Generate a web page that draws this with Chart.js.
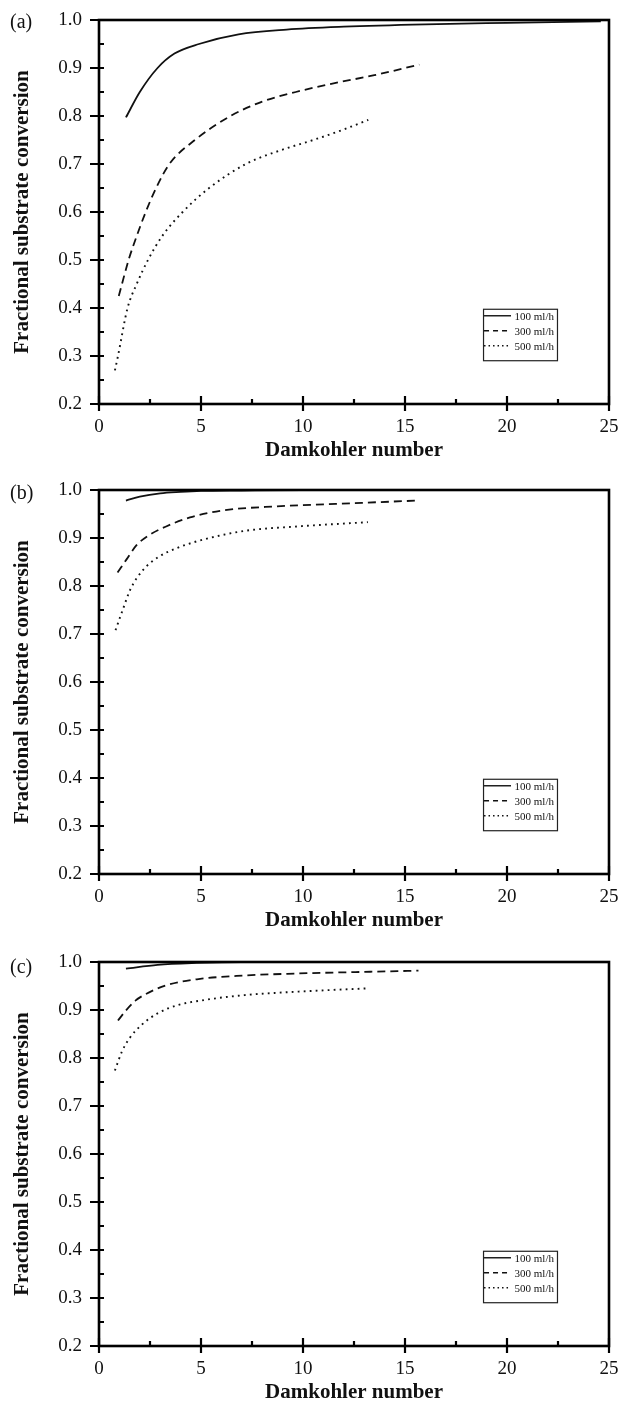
<!DOCTYPE html>
<html>
<head>
<meta charset="utf-8">
<script src="https://cdn.jsdelivr.net/npm/chart.js@4.4.1/dist/chart.umd.min.js"></script>
<style>
  html, body { margin: 0; padding: 0; background: #fff; }
  #wrap { position: relative; width: 619px; height: 1405px; }
  canvas { position: absolute; left: 0; }
</style>
</head>
<body>
<div id="wrap">
  <canvas id="chart-a" width="619" height="463" style="top:0"></canvas>
  <canvas id="chart-b" width="619" height="463" style="top:470px"></canvas>
  <canvas id="chart-c" width="619" height="463" style="top:942px"></canvas>
</div>
<script>
  // flow rates (legend)
  var seriesNames = ['100 ml/h', '300 ml/h', '500 ml/h'];

  // (a) Damkohler number vs fractional conversion
  var a100 = [[1.32, 0.797], [2.0, 0.85], [2.87, 0.90], [3.7, 0.93], [4.9, 0.95], [6.84, 0.97], [9.2, 0.98], [12, 0.986], [16, 0.991], [20, 0.994], [24.6, 0.997]];
  var a300 = [[0.97, 0.425], [1.45, 0.50], [1.85, 0.55], [2.29, 0.60], [2.8, 0.65], [3.45, 0.70], [4.7, 0.75], [6.45, 0.80], [8, 0.83], [9.65, 0.85], [11.5, 0.868], [13.5, 0.885], [15.7, 0.907]];
  var a500 = [[0.78, 0.27], [0.93, 0.30], [1.4, 0.40], [1.85, 0.45], [2.4, 0.50], [3.1, 0.55], [4.1, 0.60], [5.4, 0.65], [7.2, 0.70], [9, 0.73], [10.5, 0.75], [12, 0.772], [13.2, 0.792]];

  // (b)
  var b100 = [[1.32, 0.978], [2, 0.986], [3, 0.993], [4, 0.996], [5, 0.998], [7, 0.999], [10, 1.0], [24.6, 1.0]];
  var b300 = [[0.91, 0.828], [1.36, 0.856], [1.84, 0.885], [2.42, 0.905], [3.29, 0.924], [4.46, 0.943], [6.0, 0.957], [8.7, 0.966], [11.6, 0.971], [15.6, 0.978]];
  var b500 = [[0.81, 0.708], [1.16, 0.75], [1.55, 0.794], [2.13, 0.832], [2.9, 0.86], [3.88, 0.88], [5.23, 0.898], [7.17, 0.915], [9.7, 0.924], [13.18, 0.933]];

  // (c)
  var c100 = [[1.32, 0.986], [2.87, 0.994], [4.8, 0.998], [7, 1.0], [24.6, 1.0]];
  var c300 = [[0.93, 0.878], [1.32, 0.899], [1.8, 0.92], [2.29, 0.933], [3.26, 0.951], [4.8, 0.964], [6.74, 0.971], [9.65, 0.976], [12.56, 0.979], [15.66, 0.982]];
  var c500 = [[0.78, 0.774], [1.12, 0.813], [1.51, 0.842], [2.09, 0.869], [2.87, 0.893], [3.84, 0.91], [5.19, 0.921], [7.13, 0.931], [9.65, 0.938], [13.14, 0.945]];

  var xMin = 0, xMax = 25, xStep = 5;
  var yMin = 0.2, yMax = 1.0, yStep = 0.1;

  var SERIF = 'Liberation Serif';
  var INK = '#111';

  Chart.defaults.font.family = SERIF;
  Chart.defaults.color = INK;

  var lineStyles = [
    { dash: [], width: 1.8 },
    { dash: [8, 5], width: 1.8 },
    { dash: [1.8, 4.2], width: 1.9 }
  ];

  function pts(arr) {
    return arr.map(function (p) { return { x: p[0], y: p[1] }; });
  }

  // box, crossing ticks, panel letter and the small legend
  var framePlugin = {
    id: 'frame',
    afterDatasetsDraw: function (chart) {
      var ctx = chart.ctx;
      var a = chart.chartArea;
      var xs = chart.scales.x;
      var ys = chart.scales.y;
      ctx.save();
      ctx.strokeStyle = '#000';
      ctx.lineWidth = 2.6;
      ctx.strokeRect(a.left, a.top, a.right - a.left, a.bottom - a.top);

      ctx.lineWidth = 2.2;
      ctx.beginPath();
      var xt = xs.ticks.map(function (t) { return t.value; });
      xt.forEach(function (v, i) {
        var px = xs.getPixelForValue(v);
        ctx.moveTo(px, a.bottom - 8);
        ctx.lineTo(px, a.bottom + 7);
        if (i < xt.length - 1) {
          var mx = xs.getPixelForValue((v + xt[i + 1]) / 2);
          ctx.moveTo(mx, a.bottom);
          ctx.lineTo(mx, a.bottom - 5);
        }
      });
      var yt = ys.ticks.map(function (t) { return t.value; });
      yt.forEach(function (v, i) {
        var py = ys.getPixelForValue(v);
        ctx.moveTo(a.left - 9, py);
        ctx.lineTo(a.left + 5, py);
        if (i < yt.length - 1) {
          var my = ys.getPixelForValue((v + yt[i + 1]) / 2);
          ctx.moveTo(a.left, my);
          ctx.lineTo(a.left + 5, my);
        }
      });
      ctx.stroke();
      ctx.restore();
    },
    afterDraw: function (chart, args, opts) {
      var ctx = chart.ctx;
      var a = chart.chartArea;
      var w = a.right - a.left, h = a.bottom - a.top;
      ctx.save();

      // panel letter
      ctx.fillStyle = INK;
      ctx.font = '20px "' + SERIF + '"';
      ctx.textBaseline = 'middle';
      ctx.textAlign = 'left';
      ctx.fillText(opts.label, 10, a.top + opts.labelDy);

      // legend box
      var bl = a.left + w * 0.753, br = a.left + w * 0.898;
      var bt = a.top + h * 0.752, bb = a.top + h * 0.886;
      ctx.fillStyle = '#fff';
      ctx.fillRect(bl, bt, br - bl, bb - bt);
      ctx.strokeStyle = '#222';
      ctx.lineWidth = 1.2;
      ctx.strokeRect(bl + 0.5, bt + 0.5, br - bl, bb - bt);

      ctx.font = '11px "' + SERIF + '"';
      ctx.textAlign = 'right';
      chart.data.datasets.forEach(function (ds, i) {
        var ry = bt + 7 + i * 15;
        ctx.strokeStyle = '#111';
        ctx.lineWidth = 1.4;
        ctx.setLineDash(i === 1 ? [5, 4] : (i === 2 ? [1.5, 3] : []));
        ctx.beginPath();
        ctx.moveTo(bl + 1, ry);
        ctx.lineTo(bl + 28, ry);
        ctx.stroke();
        ctx.setLineDash([]);
        ctx.fillStyle = INK;
        ctx.fillText(ds.label, br - 3, ry + 1);
      });
      ctx.restore();
    }
  };

  function makeChart(id, label, labelDy, s100, s300, s500) {
    var sets = [s100, s300, s500].map(function (s, i) {
      return {
        label: seriesNames[i],
        data: pts(s),
        borderColor: '#111',
        borderWidth: lineStyles[i].width,
        borderDash: lineStyles[i].dash,
        pointRadius: 0,
        fill: false,
        tension: 0.4,
        cubicInterpolationMode: 'monotone'
      };
    });
    return new Chart(document.getElementById(id).getContext('2d'), {
      type: 'line',
      data: { datasets: sets },
      options: {
        responsive: false,
        animation: false,
        devicePixelRatio: 1,
        layout: { padding: { top: 20, right: 10, bottom: 0, left: 0 } },
        scales: {
          x: {
            type: 'linear',
            min: xMin,
            max: xMax,
            grid: { display: false, drawTicks: false },
            border: { display: false },
            ticks: { stepSize: xStep, padding: 12, color: INK, font: { size: 19 } },
            title: {
              display: true,
              text: 'Damkohler number',
              color: INK,
              font: { size: 21, weight: 'bold' },
              padding: { top: 0, bottom: 0 }
            },
            afterFit: function (s) {
              s.height = 59;
              s.paddingLeft = 0;
              s.paddingRight = 0;
            }
          },
          y: {
            type: 'linear',
            min: yMin,
            max: yMax,
            grid: { display: false, drawTicks: false },
            border: { display: false },
            ticks: {
              stepSize: yStep,
              padding: 17,
              color: INK,
              font: { size: 19 },
              callback: function (v) { return Number(v).toFixed(1); }
            },
            title: {
              display: true,
              text: 'Fractional substrate conversion',
              color: INK,
              font: { size: 21, weight: 'bold' },
              padding: { top: 10, bottom: 0 }
            },
            afterFit: function (s) {
              s.width = 99;
              s.paddingTop = 0;
              s.paddingBottom = 0;
            }
          }
        },
        plugins: {
          legend: { display: false },
          tooltip: { enabled: false },
          frame: { label: label, labelDy: labelDy }
        }
      },
      plugins: [framePlugin]
    });
  }

  makeChart('chart-a', '(a)', 3, a100, a300, a500);
  makeChart('chart-b', '(b)', 4, b100, b300, b500);
  makeChart('chart-c', '(c)', 6, c100, c300, c500);
</script>
</body>
</html>
